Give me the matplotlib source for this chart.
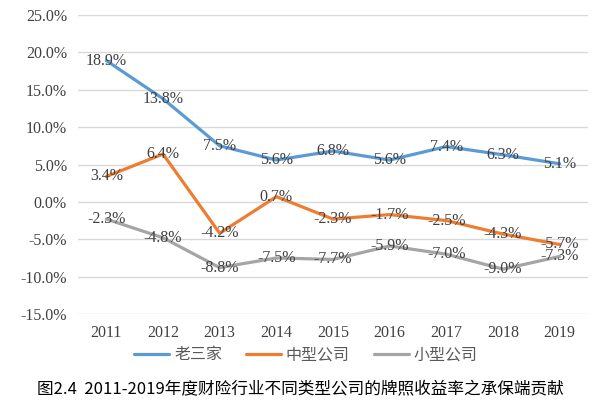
import matplotlib
matplotlib.use("Agg")
import matplotlib.pyplot as plt
from matplotlib.ticker import FuncFormatter

years = ['2011', '2012', '2013', '2014', '2015', '2016', '2017', '2018', '2019']
big_three = [18.9, 13.8, 7.5, 5.6, 6.8, 5.6, 7.4, 6.3, 5.1]
mid_co = [3.4, 6.4, -4.2, 0.7, -2.3, -1.7, -2.5, -4.3, -5.7]
small_co = [-2.3, -4.8, -8.8, -7.5, -7.7, -5.9, -7.0, -9.0, -7.3]

series = [
    ('老三家', big_three, '#5B9BD5'),
    ('中型公司', mid_co, '#ED7D31'),
    ('小型公司', small_co, '#A5A5A5'),
]

cjk = ['Noto Sans CJK SC', 'DejaVu Sans']
serif = ['Liberation Serif', 'DejaVu Serif']

fig = plt.figure(figsize=(6, 4.17), dpi=100)
ax = fig.add_axes([0.13, 0.247, 0.85, 0.717])

x = list(range(len(years)))
for name, vals, color in series:
    ax.plot(x, vals, color=color, lw=2.3, label=name, solid_capstyle='round')
    for xi, v in zip(x, vals):
        ax.text(xi, v, f'{v:.1f}%', ha='center', va='center',
                fontsize=11.5, family=serif, color='#404040')

ax.set_xlim(-0.5, len(years) - 0.5)
ax.set_ylim(-15, 25)
ax.set_yticks(range(-15, 26, 5))
ax.yaxis.set_major_formatter(FuncFormatter(lambda v, p: f'{v:.1f}%'))
ax.set_xticks(x)
ax.set_xticklabels(years)
for lbl in ax.get_xticklabels() + ax.get_yticklabels():
    lbl.set_family(serif)
    lbl.set_fontsize(11.5)
    lbl.set_color('#404040')
ax.tick_params(length=0, pad=8)
ax.grid(axis='y', color='#D9D9D9', lw=1)
ax.set_axisbelow(True)
for s in ax.spines.values():
    s.set_visible(False)

leg = ax.legend(loc='center', bbox_to_anchor=(0.447, -0.137), ncol=3, frameon=False,
                prop={'family': cjk, 'size': 11.5}, handlelength=2.2,
                columnspacing=1.5, handletextpad=0.3)
for t in leg.get_texts():
    t.set_color('#595959')

fig.text(0.5, 0.065, '图2.4  2011-2019年度财险行业不同类型公司的牌照收益率之承保端贡献',
         ha='center', va='center', fontsize=12, family=cjk, color='black')

fig.savefig('out.png', dpi=100, facecolor='white')
